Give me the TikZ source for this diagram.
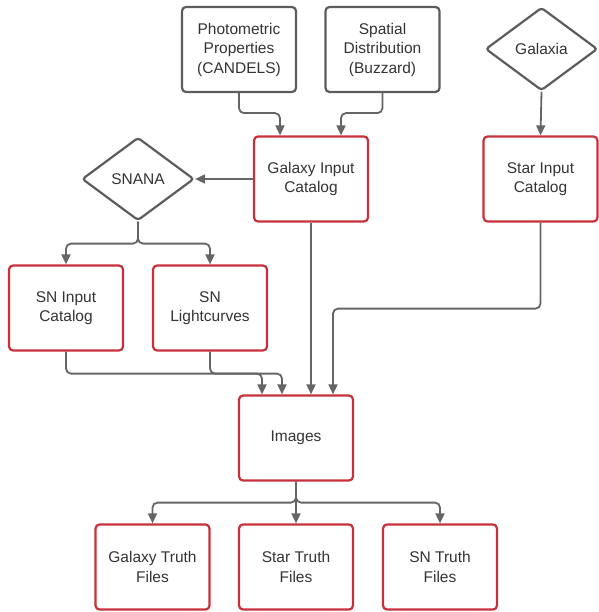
\documentclass[tikz,border=0pt]{standalone}
\usepackage{fontspec}
\setmainfont{Liberation Sans}
\usetikzlibrary{shapes.geometric,arrows.meta}

\definecolor{boxgray}{HTML}{5C5C5C}
\definecolor{boxred}{HTML}{C8313B}
\definecolor{linegray}{HTML}{656565}
\definecolor{textgray}{HTML}{333333}

\tikzset{
  srcbox/.style={draw=boxgray, line width=2.2pt, rounded corners=4pt,
    minimum width=114pt, minimum height=85pt, align=center,
    text=textgray, font=\fontsize{15.5}{19.5}\selectfont},
  prodbox/.style={srcbox, draw=boxred},
  choice/.style={diamond, draw=boxgray, line width=2.2pt, rounded corners=3pt,
    minimum width=112pt, minimum height=83pt, inner sep=0pt,
    text=textgray, font=\fontsize{15.5}{19.5}\selectfont},
  flow/.style={draw=linegray, line width=1.8pt, rounded corners=5pt,
    -{Triangle[length=10pt,width=9pt]}}
}

\begin{document}
\begin{tikzpicture}[x=1pt,y=-1pt]
    \useasboundingbox (0,0) rectangle (598,612);

    % inputs
    \node[srcbox] (photo) at (239,49.5) {Photometric\\Properties\\(CANDELS)};
    \node[srcbox] (spat) at (382.5,49.5) {Spatial\\Distribution\\(Buzzard)};
    \node[choice] (galaxia) at (541.5,49) {Galaxia};

    % catalogs
    \node[prodbox] (galin) at (311,179) {Galaxy Input\\Catalog};
    \node[choice] (snana) at (138,179) {SNANA};
    \node[prodbox] (starin) at (540.5,179) {Star Input\\Catalog};
    \node[prodbox] (sncat) at (66,308) {SN Input\\Catalog};
    \node[prodbox] (snlc) at (210,308) {SN\\Lightcurves};

    % outputs
    \node[prodbox] (img) at (296,438) {Images};
    \node[prodbox] (galtr) at (152.5,567) {Galaxy Truth\\Files};
    \node[prodbox] (sttr) at (296,567) {Star Truth\\Files};
    \node[prodbox] (sntr) at (440,567) {SN Truth\\Files};

    \draw[flow] (photo.south) -- ++(0,20) -| ([xshift=-31pt]galin.north);
    \draw[flow] (spat.south) -- ++(0,20) -| ([xshift=30pt]galin.north);
    \draw[flow] (galin.west) -- (snana.east);
    \draw[flow] (galaxia.south) -- (starin.north);

    \draw[flow] (snana.south) -- ++(0,22) -| (sncat.north);
    \draw[flow] (snana.south) -- ++(0,22) -| (snlc.north);

    \draw[flow] (sncat.south) -- ++(0,22) -| ([xshift=-14pt]img.north);
    \draw[flow] (snlc.south) -- ++(0,22) -| ([xshift=-34pt]img.north);
    \draw[flow] (galin.south) -- (galin.south |- img.north);
    \draw[flow] (starin.south) -- ++(0,86) -| ([xshift=37pt]img.north);

    \draw[flow] (img.south) -- ++(0,21) -| (galtr.north);
    \draw[flow] (img.south) -- (sttr.north);
    \draw[flow] (img.south) -- ++(0,21) -| (sntr.north);
\end{tikzpicture}
\end{document}
